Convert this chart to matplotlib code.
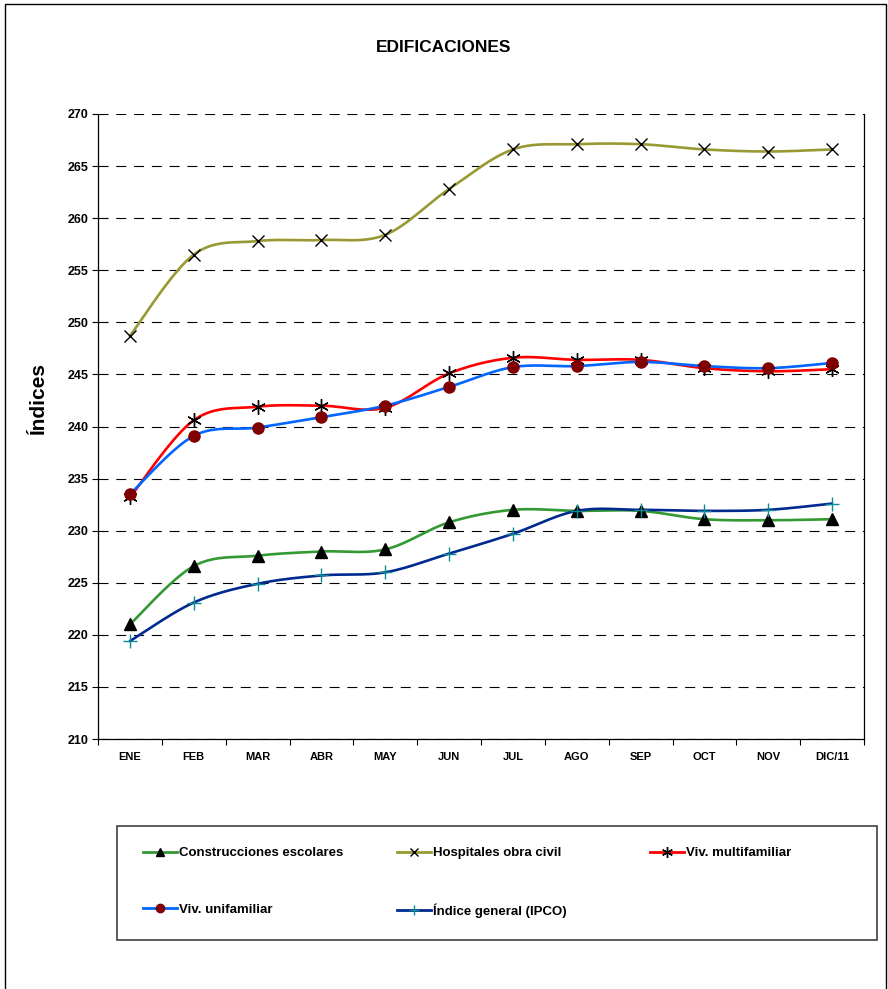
import numpy as np
import matplotlib
matplotlib.use("Agg")
import matplotlib.pyplot as plt
from matplotlib.lines import Line2D
from matplotlib.patches import Rectangle

plt.rcParams['font.family'] = ['Liberation Sans', 'DejaVu Sans']

months = ["ENE", "FEB", "MAR", "ABR", "MAY", "JUN", "JUL", "AGO", "SEP", "OCT", "NOV", "DIC/11"]

construcciones = [221.0, 226.6, 227.6, 228.0, 228.2, 230.8, 232.0, 231.9, 231.9, 231.1, 231.0, 231.1]
hospitales = [248.7, 256.5, 257.8, 257.9, 258.4, 262.8, 266.6, 267.1, 267.1, 266.6, 266.4, 266.6]
multifamiliar = [233.2, 240.6, 241.9, 242.0, 241.8, 245.1, 246.6, 246.4, 246.4, 245.6, 245.3, 245.5]
unifamiliar = [233.5, 239.1, 239.9, 240.9, 242.0, 243.8, 245.7, 245.8, 246.2, 245.8, 245.6, 246.1]
ipco = [219.4, 223.1, 224.9, 225.7, 226.0, 227.8, 229.7, 231.9, 232.0, 231.9, 232.0, 232.6]

labels = ["Construcciones escolares", "Hospitales obra civil", "Viv. multifamiliar",
          "Viv. unifamiliar", "Índice general (IPCO)"]

yticks = list(range(210, 271, 5))


def smooth(x, y, n=24):
    x = np.asarray(x, float)
    y = np.asarray(y, float)
    px = np.concatenate([[x[0]], x, [x[-1]]])
    py = np.concatenate([[y[0]], y, [y[-1]]])
    xs, ys = [], []
    t = np.linspace(0, 1, n)
    for i in range(1, len(px) - 2):
        p0 = np.array([px[i - 1], py[i - 1]])
        p1 = np.array([px[i], py[i]])
        p2 = np.array([px[i + 1], py[i + 1]])
        p3 = np.array([px[i + 2], py[i + 2]])
        b1 = p1 + (p2 - p0) / 6.0
        b2 = p2 - (p3 - p1) / 6.0
        pts = (((1 - t) ** 3)[:, None] * p1 + (3 * (1 - t) ** 2 * t)[:, None] * b1 +
               (3 * (1 - t) * t ** 2)[:, None] * b2 + (t ** 3)[:, None] * p2)
        xs.extend(pts[:, 0])
        ys.extend(pts[:, 1])
    return np.array(xs), np.array(ys)


fig = plt.figure(figsize=(8.88, 9.89), dpi=100)
ax = fig.add_axes([98 / 888, 1 - 739 / 989, 766 / 888, 625 / 989])

x = np.arange(len(months))

styles = [
    dict(data=construcciones, color="#339933", marker="^", mfc="black", mec="black", ms=8, mew=1),
    dict(data=hospitales, color="#999933", marker="x", mfc="black", mec="black", ms=8, mew=1),
    dict(data=multifamiliar, color="#FF0000", marker=(6, 2, 0), mfc="black", mec="black", ms=10.5, mew=1),
    dict(data=unifamiliar, color="#0066FF", marker="o", mfc="#800000", mec="#800000", ms=8, mew=1),
    dict(data=ipco, color="#002A8F", marker="+", mfc="#0A8A99", mec="#0A8A99", ms=10, mew=1),
]

handles = []
for st, lab in zip(styles, labels):
    sx, sy = smooth(x, st["data"])
    ax.plot(sx, sy, color=st["color"], lw=1.9, zorder=3, solid_capstyle="round")
    ax.plot(x, st["data"], ls="none", marker=st["marker"], mfc=st["mfc"], mec=st["mec"],
            ms=st["ms"], mew=st["mew"], zorder=4)
    handles.append(Line2D([], [], color=st["color"], lw=2, marker=st["marker"], mfc=st["mfc"],
                          mec=st["mec"], ms=st["ms"] * 0.75, mew=st["mew"]))

ax.set_xlim(-0.5, len(months) - 0.5)
ax.set_ylim(210, 270)
ax.set_yticks(yticks)
ax.set_yticklabels([str(v) for v in yticks], fontsize=9, fontweight="bold")
ax.set_xticks(x)
ax.set_xticklabels(months, fontsize=8, fontweight="bold")
ax.set_xticks(np.arange(-0.5, len(months), 1.0), minor=True)
ax.tick_params(axis="x", which="major", length=0, pad=9)
ax.tick_params(axis="x", which="minor", length=4, direction="out", width=0.8)
ax.tick_params(axis="y", length=4, direction="out", width=0.8, pad=3)
ax.yaxis.grid(True, color="black", lw=0.8, linestyle=(0, (9, 7)))
ax.set_axisbelow(True)
ax.spines["top"].set_visible(False)
for s in ["left", "bottom", "right"]:
    ax.spines[s].set_linewidth(0.9)
    ax.spines[s].set_color("black")

ax.set_ylabel("Índices", fontsize=15, fontweight="bold")
ax.yaxis.set_label_coords(-0.066, 0.545)

fig.text(444 / 888, 1 - 47 / 989, "EDIFICACIONES", ha="center", va="center",
         fontsize=12.5, fontweight="bold")

# outer border
fig.patches.append(Rectangle((5 / 888, -0.05), 881 / 888, 1.05 - 4 / 989, transform=fig.transFigure,
                             fill=False, edgecolor="black", lw=1.0))
# legend box
fig.patches.append(Rectangle((117 / 888, 1 - 940 / 989), 760 / 888, 114 / 989, transform=fig.transFigure,
                             fill=False, edgecolor="#404040", lw=1.2))

cols = [(143, [0, 3]), (397, [1, 4]), (650, [2])]
for xc, idxs in cols:
    leg = fig.legend([handles[i] for i in idxs], [labels[i] for i in idxs],
                     loc="upper left", bbox_to_anchor=(xc / 888, 1 - 847 / 989),
                     frameon=False, borderpad=0, borderaxespad=0, handlelength=2.6,
                     handletextpad=0.15, labelspacing=3.35,
                     prop=dict(size=9.5, weight="bold"))

fig.savefig("out.png", dpi=100)
